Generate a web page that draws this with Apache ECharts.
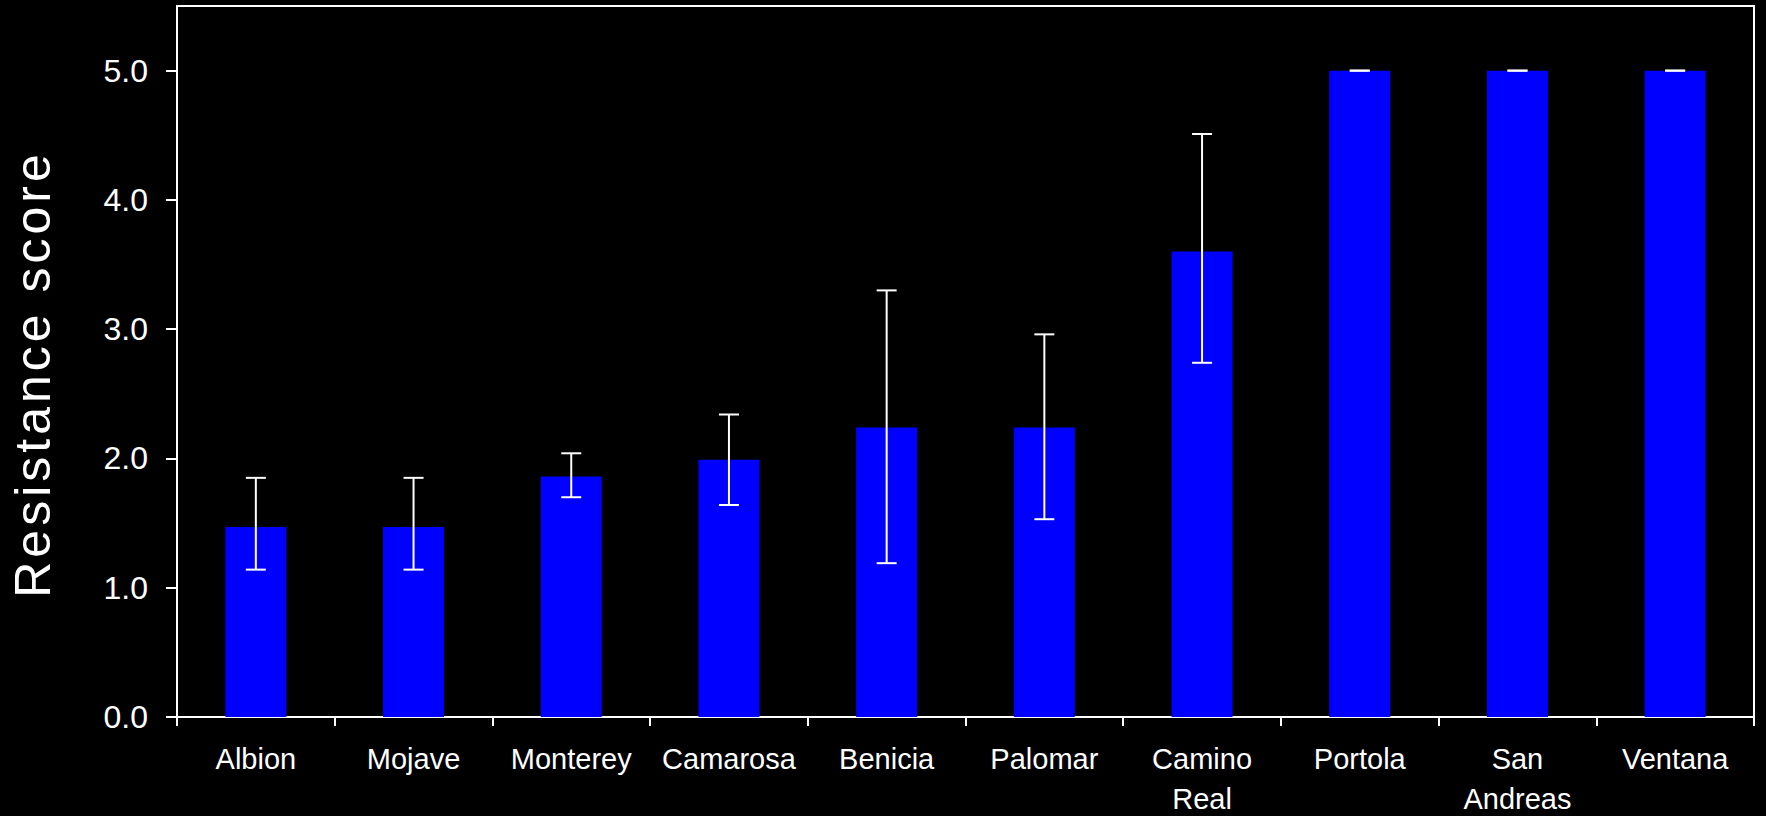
<!DOCTYPE html>
<html>
<head>
<meta charset="utf-8">
<title>Resistance score by cultivar</title>
<script src="https://cdn.jsdelivr.net/npm/echarts@6/dist/echarts.min.js"></script>
<style>
  html, body { margin: 0; padding: 0; background: #000; }
  #chart { width: 1766px; height: 816px; }
</style>
</head>
<body>
<div id="chart"></div>
<script>
// Cultivars (category axis)
const cultivars = ['Albion', 'Mojave', 'Monterey', 'Camarosa', 'Benicia', 'Palomar', 'Camino\nReal', 'Portola', 'San\nAndreas', 'Ventana'];
// Mean resistance score
const meanScore = [1.47, 1.47, 1.86, 1.99, 2.24, 2.24, 3.60, 5.0, 5.0, 5.0];
// Error bar bounds
const errLow  = [1.14, 1.14, 1.70, 1.64, 1.19, 1.53, 2.74, 5.0, 5.0, 5.0];
const errHigh = [1.85, 1.85, 2.04, 2.34, 3.30, 2.96, 4.51, 5.0, 5.0, 5.0];
// Value axis ticks
const yTicks = [0, 1, 2, 3, 4, 5];
const yTitle = 'Resistance score';

const FONT = "'Liberation Sans', Arial, sans-serif";
const chart = echarts.init(document.getElementById('chart'), null, { renderer: 'svg' });

const errData = cultivars.map((c, i) => [i, errLow[i], errHigh[i]]);

// Two-line cultivar names: first line gets a tall box, second a compact one,
// keeping roughly a 40px line step while staying inside the canvas.
const catLabelStyle = { color: '#fff', fontFamily: FONT, fontSize: 29 };

chart.setOption({
  backgroundColor: '#000',
  animation: false,
  grid: {
    left: 177, right: 12, top: 6, bottom: 99,
    outerBoundsMode: 'none',
    containLabel: false,
    show: true, borderColor: '#fff', borderWidth: 2, backgroundColor: 'transparent'
  },
  xAxis: {
    type: 'category',
    data: cultivars,
    axisLine: { lineStyle: { color: '#fff', width: 2 } },
    axisTick: { show: true, length: 9, lineStyle: { color: '#fff', width: 2 } },
    axisLabel: {
      color: '#fff', fontFamily: FONT, fontSize: 29, margin: 13, interval: 0,
      formatter: v => v.split('\n').map((s, i) => `{l${i}|${s}}`).join('\n'),
      rich: {
        l0: Object.assign({ lineHeight: 58 }, catLabelStyle),
        l1: Object.assign({ lineHeight: 22 }, catLabelStyle)
      }
    },
    splitLine: { show: false }
  },
  yAxis: {
    type: 'value',
    min: 0, max: 5.5,
    axisLine: { show: true, lineStyle: { color: '#fff', width: 2 } },
    axisTick: { show: true, length: 11, customValues: yTicks, lineStyle: { color: '#fff', width: 2 } },
    axisLabel: {
      color: '#fff', fontFamily: FONT, fontSize: 32, margin: 29,
      customValues: yTicks,
      formatter: v => v.toFixed(1)
    },
    splitLine: { show: false }
  },
  graphic: [{
    type: 'text',
    x: 33, y: 374,
    rotation: Math.PI / 2,
    style: {
      text: yTitle,
      fill: '#fff',
      font: '50px ' + FONT,
      align: 'center',
      verticalAlign: 'middle'
    }
  }],
  series: [
    {
      type: 'bar',
      data: meanScore,
      barWidth: 61,
      itemStyle: { color: '#0000ff' }
    },
    {
      type: 'custom',
      data: errData,
      z: 5,
      renderItem: function (params, api) {
        const x = api.value(0);
        const lo = api.coord([x, api.value(1)]);
        const hi = api.coord([x, api.value(2)]);
        const cap = 10;
        const style = { stroke: '#fff', lineWidth: 2 };
        return {
          type: 'group',
          children: [
            { type: 'line', shape: { x1: hi[0], y1: hi[1], x2: lo[0], y2: lo[1] }, style },
            { type: 'line', shape: { x1: hi[0] - cap, y1: hi[1], x2: hi[0] + cap, y2: hi[1] }, style },
            { type: 'line', shape: { x1: lo[0] - cap, y1: lo[1], x2: lo[0] + cap, y2: lo[1] }, style }
          ]
        };
      }
    }
  ]
});

// Widen the tracking of the axis title
function spaceTitle() {
  document.querySelectorAll('#chart text').forEach(t => {
    if (t.textContent === yTitle) t.setAttribute('letter-spacing', '4');
  });
}
chart.on('finished', spaceTitle);
spaceTitle();
setTimeout(spaceTitle, 50);
</script>
</body>
</html>
